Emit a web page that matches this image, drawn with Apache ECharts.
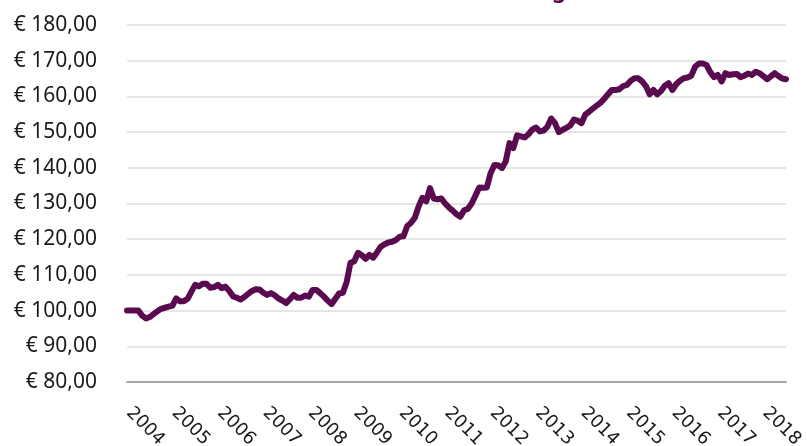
<!DOCTYPE html>
<html>
<head>
<meta charset="utf-8">
<script src="https://cdn.jsdelivr.net/npm/echarts@6/dist/echarts.min.js"></script>
<style>html,body{margin:0;padding:0;background:#fff}#c{width:807px;height:446px}</style>
</head>
<body>
<div id="c"></div>
<script>
const years = ['2004','2005','2006','2007','2008','2009','2010','2011','2012','2013','2014','2015','2016','2017','2018'];
const v2004 = [100,100,100,100,98.6,97.8,98.2,99,99.8,100.5,100.8,101.1];
const v2005 = [101.4,103.4,102.6,102.6,103.3,105.3,107.2,106.8,107.5,107.5,106.4,106.6];
const v2006 = [107.2,106.3,106.7,105.5,104,103.6,103.1,103.8,104.7,105.5,106,105.9];
const v2007 = [105,104.4,104.9,104.3,103.4,102.8,102.1,103.2,104.4,103.6,103.6,104.2];
const v2008 = [103.9,105.8,105.8,104.9,103.9,102.8,101.8,103.3,104.8,105,108,113.4];
const v2009 = [113.8,116.2,115.5,114.5,115.6,114.8,116.3,117.9,118.6,119.1,119.3,119.8];
const v2010 = [120.7,120.8,123.7,124.6,126,129.2,131.6,130.6,134.3,131.4,131.2,131.4];
const v2011 = [130,128.9,128,127,126.3,128.1,128.5,130,132.2,134.5,134.4,134.5];
const v2012 = [138.5,140.8,140.7,139.9,141.8,146.9,145.5,149.1,148.8,148.5,149.4,150.7];
const v2013 = [151.3,150.2,150.4,151.5,153.8,152.5,150,150.6,151.2,151.8,153.5,153.2];
const v2014 = [152.5,154.9,155.7,156.6,157.4,158.2,159.3,160.6,161.8,161.8,162,162.9];
const v2015 = [163.2,164.4,165.1,165.1,164.2,162.9,160.6,161.8,160.6,161.5,163,163.7];
const v2016 = [161.8,163.4,164.4,165.1,165.3,165.8,168.3,169.2,169.2,168.8,166.8,165.4];
const v2017 = [166,164.2,166.5,166,166.2,166.3,165.4,165.8,166.4,166,166.9,166.5];
const v2018 = [165.7,164.8,165.6,166.5,165.7,165,164.8];

const yearly = [v2004,v2005,v2006,v2007,v2008,v2009,v2010,v2011,v2012,v2013,v2014,v2015,v2016,v2017,v2018];
const categories = [];
const values = [];
yearly.forEach((arr, yi) => {
  arr.forEach((v, m) => {
    categories.push(years[yi] + '-' + String(m + 1).padStart(2, '0'));
    values.push(v);
  });
});

const chart = echarts.init(document.getElementById('c'), null, {renderer: 'canvas'});
chart.setOption({
  animation: false,
  grid: {left: 127, right: 21, top: 25, bottom: 64, containLabel: false, outerBoundsMode: 'none'},
  graphic: [{
    type: 'text', left: 552, top: -19,
    style: {text: 'g', font: 'bold 22px "Noto Sans"', fill: '#5a0a4e'}
  }],
  xAxis: {
    type: 'category',
    data: categories,
    boundaryGap: false,
    axisLine: {lineStyle: {color: '#a6a6a6', width: 2}},
    axisTick: {show: false},
    axisLabel: {
      interval: 11,
      rotate: -45,
      margin: 26,
      color: '#1a1a1a',
      fontFamily: 'DejaVu Sans',
      fontSize: 18,
      padding: [0, 0, 0, 3],
      formatter: v => v.slice(0, 4)
    },
    splitLine: {show: false}
  },
  yAxis: {
    type: 'value',
    min: 80, max: 180, interval: 10,
    axisLine: {show: false},
    axisTick: {show: false},
    axisLabel: {
      margin: 30,
      color: '#1a1a1a',
      fontFamily: 'Noto Sans',
      fontSize: 21,
      formatter: v => '€ ' + v.toFixed(2).replace('.', ',')
    },
    splitLine: {lineStyle: {color: '#e6e6e6', width: 2}}
  },
  series: [{
    type: 'line',
    data: values,
    symbol: 'none',
    smooth: false,
    lineStyle: {color: '#5a0a4e', width: 6, join: 'round', cap: 'round'}
  }]
});
</script>
</body>
</html>
